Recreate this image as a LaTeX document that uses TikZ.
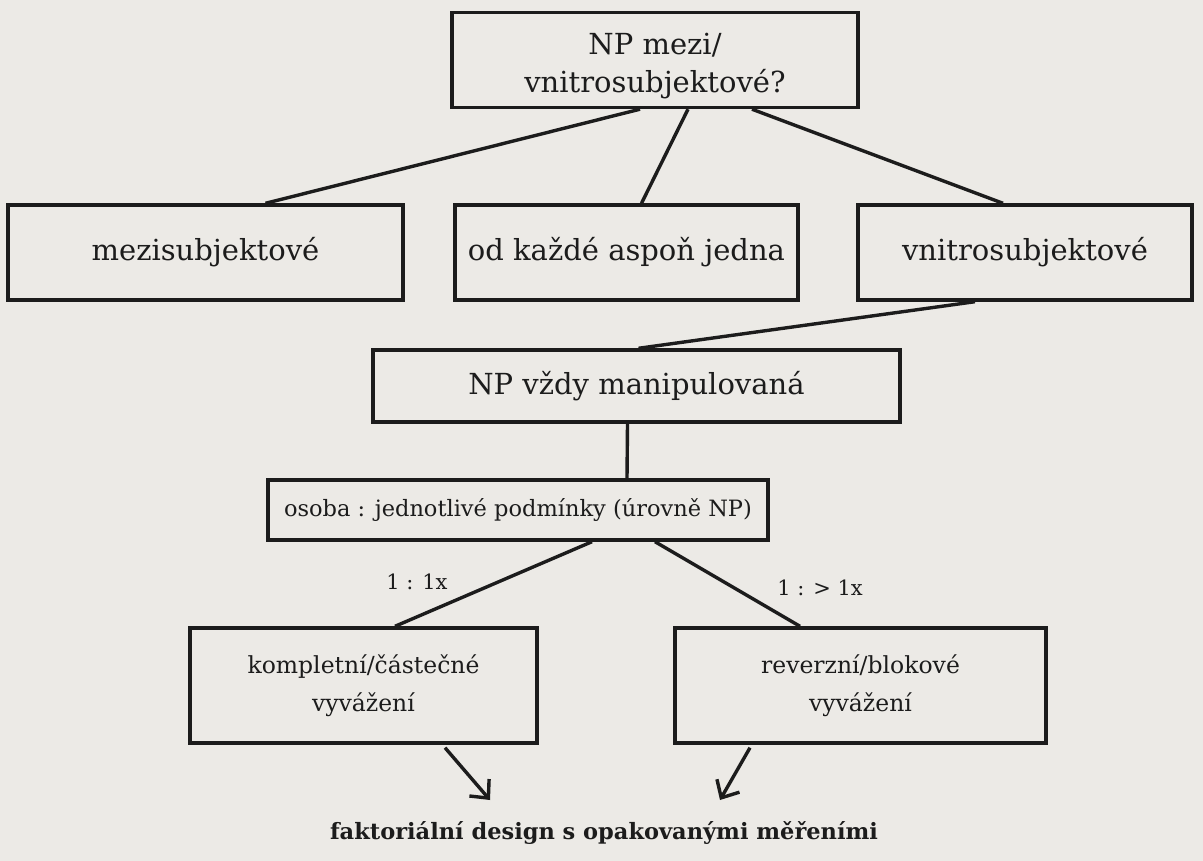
\documentclass[tikz,border=0pt]{standalone}
\usepackage{fontspec}
\setmainfont{DejaVu Serif}
\usetikzlibrary{arrows.meta}
\definecolor{paper}{RGB}{236,234,230}
\definecolor{ink}{RGB}{28,28,28}
\tikzset{
  box/.style={draw=ink, text=ink, line width=3.4pt, rectangle, align=center, inner sep=0pt},
  conn/.style={draw=ink, line width=3.4pt},
  arr/.style={draw=ink, line width=3.4pt, -{Straight Barb[length=14pt,width=26pt,line width=3.4pt]}},
  lbl/.style={inner sep=0pt, text=ink, font=\fontsize{21}{24}\selectfont}
}
\begin{document}
\begin{tikzpicture}[x=1pt,y=-1pt]
\fill[paper] (0,0) rectangle (1203,861);
\useasboundingbox (0,0) rectangle (1203,861);
\node[box, minimum width=406pt, minimum height=95pt] (top) at (655,60) {};
\node[text=ink, align=center, inner sep=0pt, font=\fontsize{29}{38}\selectfont] (topt) at (655,66) {NP mezi/\\vnitrosubjektové?};
\node[box, minimum width=395pt, minimum height=95pt, font=\fontsize{29}{32}\selectfont] (b1) at (205.5,252.5) {mezisubjektové};
\node[box, minimum width=343pt, minimum height=95pt, font=\fontsize{29}{32}\selectfont] (b2) at (626.5,252.5) {od každé aspoň jedna};
\node[box, minimum width=334pt, minimum height=95pt, font=\fontsize{29}{32}\selectfont] (b3) at (1025,252.5) {vnitrosubjektové};
\node[box, minimum width=527pt, minimum height=72pt, font=\fontsize{29}{32}\selectfont] (np) at (636.5,386) {NP vždy manipulovaná};
\node[box, minimum width=500pt, minimum height=60pt, font=\fontsize{22.5}{28}\selectfont] (os) at (518,510) {osoba : jednotlivé podmínky (úrovně NP)};
\node[box, minimum width=347pt, minimum height=115pt, font=\fontsize{23.5}{38}\selectfont] (k) at (363.5,685.5) {kompletní/částečné\\vyvážení};
\node[box, minimum width=371pt, minimum height=115pt, font=\fontsize{23.5}{38}\selectfont] (r) at (860.5,685.5) {reverzní/blokové\\vyvážení};
\node[inner sep=0pt, text=ink, font=\bfseries\fontsize{22.5}{26}\selectfont] (fin) at (604,833) {faktoriální design s opakovanými měřeními};
\node[lbl] (l1) at (417,582) {1 : 1x};
\node[lbl] (l2) at (820,588) {1 : > 1x};
\coordinate (a1) at (490,800);
\coordinate (a2) at (720,800);
\draw[conn] ([xshift=-15pt]top.south) -- ([xshift=60pt]b1.north);
\draw[conn] ([xshift=33pt]top.south) -- ([xshift=15pt]b2.north);
\draw[conn] ([xshift=97pt]top.south) -- ([xshift=-22pt]b3.north);
\draw[conn] ([xshift=-50pt]b3.south) -- ([xshift=2pt]np.north);
\draw[conn] ([xshift=-9pt]np.south) -- ([xshift=109pt]os.north);
\draw[conn] ([xshift=74pt]os.south) -- ([xshift=31.5pt]k.north);
\draw[conn] ([xshift=137pt]os.south) -- ([xshift=-60.5pt]r.north);
\draw[arr] ([xshift=81.5pt,yshift=-3pt]k.south) -- (a1);
\draw[arr] ([xshift=-110.5pt,yshift=-3pt]r.south) -- (a2);
\end{tikzpicture}
\end{document}
